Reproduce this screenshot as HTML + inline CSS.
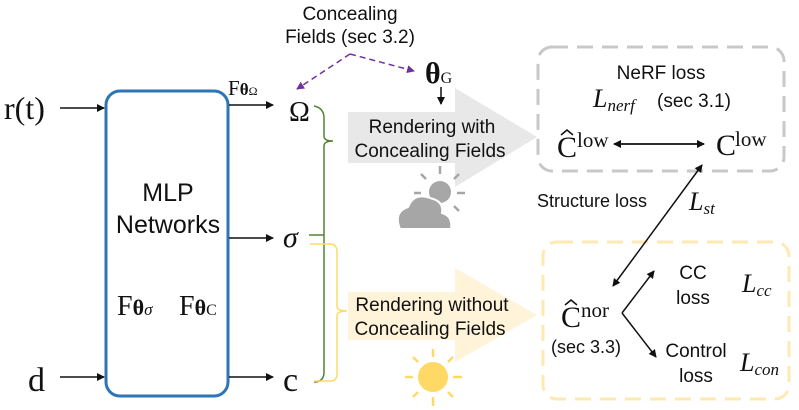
<!DOCTYPE html>
<html><head><meta charset="utf-8"><style>
html,body{margin:0;padding:0;background:#fff;width:799px;height:410px;overflow:hidden}
svg{display:block}
.s{font-family:"Liberation Sans",sans-serif;fill:#111}
.r{font-family:"Liberation Serif",serif;fill:#111}
</style></head><body>
<svg width="799" height="410" viewBox="0 0 799 410" xmlns="http://www.w3.org/2000/svg">
<defs>
<marker id="a" markerWidth="8" markerHeight="8" refX="7" refY="4" orient="auto" markerUnits="userSpaceOnUse"><path d="M0,0 L8,4 L0,8 z" fill="#111"/></marker>
<marker id="as" markerWidth="8" markerHeight="8" refX="1" refY="4" orient="auto" markerUnits="userSpaceOnUse"><path d="M8,0 L0,4 L8,8 z" fill="#111"/></marker>
<marker id="p" markerWidth="8" markerHeight="8" refX="7" refY="4" orient="auto" markerUnits="userSpaceOnUse"><path d="M0,0 L8,4 L0,8 z" fill="#7030a0"/></marker>
</defs>
<path d="M348,112 H455 V88 L537,137 L455,187 V163 H348 Z" fill="#e8e8e8"/>
<path d="M348,292 H455 V268 L537,315 L455,362 V340 H348 Z" fill="#fff3d9"/>
<text class="s" font-size="19" x="432" y="133" text-anchor="middle">Rendering with</text>
<text class="s" font-size="19" x="430" y="157" text-anchor="middle">Concealing Fields</text>
<text class="s" font-size="19" x="432" y="311" text-anchor="middle">Rendering without</text>
<text class="s" font-size="19" x="430" y="335" text-anchor="middle">Concealing Fields</text>
<rect x="106" y="91" width="122" height="305" rx="14" fill="none" stroke="#2e75b6" stroke-width="3"/>
<text class="s" font-size="25" x="168" y="201" text-anchor="middle">MLP</text>
<text class="s" font-size="25" x="168" y="233" text-anchor="middle">Networks</text>
<text class="r" font-size="28" x="117" y="315">F<tspan font-weight="bold" font-size="22">θ</tspan><tspan font-style="italic" font-size="17">σ</tspan></text>
<text class="r" font-size="28" x="179" y="315">F<tspan font-weight="bold" font-size="22">θ</tspan><tspan font-size="16">C</tspan></text>
<text class="r" font-size="32" x="4" y="119">r(t)</text>
<text class="r" font-size="34" x="28" y="391">d</text>
<line x1="60" y1="108" x2="104" y2="108" stroke="#111" stroke-width="1.5" marker-end="url(#a)"/>
<line x1="60" y1="377" x2="104" y2="377" stroke="#111" stroke-width="1.5" marker-end="url(#a)"/>
<text class="r" font-size="21" x="228" y="95">F<tspan font-weight="bold" font-size="17">θ</tspan><tspan font-size="12">Ω</tspan></text>
<line x1="229" y1="105" x2="273" y2="105" stroke="#111" stroke-width="1.5" marker-end="url(#a)"/>
<line x1="229" y1="238" x2="273" y2="238" stroke="#111" stroke-width="1.5" marker-end="url(#a)"/>
<line x1="229" y1="377" x2="273" y2="377" stroke="#111" stroke-width="1.5" marker-end="url(#a)"/>
<text class="r" font-size="28" x="289" y="121">Ω</text>
<text class="r" font-size="30" font-style="italic" x="283" y="247">σ</text>
<text class="r" font-size="34" x="283" y="391">c</text>
<path d="M314,106 Q324,108 324,118 V136 Q324,141 333,141 Q324,141 324,146 V372 Q324,382 314,382" fill="none" stroke="#548235" stroke-width="1.5"/>
<line x1="309" y1="235" x2="324" y2="235" stroke="#548235" stroke-width="1.5"/>
<path d="M310,244 H330 Q337,244 337,252 V306 Q337,311 347,311 Q337,311 337,316 V374 Q337,381 330,381 H314" fill="none" stroke="#ffd966" stroke-width="1.5"/>
<text class="s" font-size="19" x="350" y="20" text-anchor="middle">Concealing</text>
<text class="s" font-size="19" x="350" y="43" text-anchor="middle">Fields (sec 3.2)</text>
<path d="M350,54 L297,89" fill="none" stroke="#7030a0" stroke-width="1.5" stroke-dasharray="6 4" marker-end="url(#p)"/>
<path d="M350,54 L414,71" fill="none" stroke="#7030a0" stroke-width="1.5" stroke-dasharray="6 4" marker-end="url(#p)"/>
<text class="r" font-size="30" font-weight="bold" x="425" y="83">θ<tspan font-size="16" font-weight="normal">G</tspan></text>
<line x1="441" y1="87" x2="441" y2="104" stroke="#111" stroke-width="1.5" marker-end="url(#a)"/>
<g fill="#a6a6a6" stroke="#a6a6a6">
<circle cx="440" cy="192" r="11" stroke="none"/>
<g stroke-width="2.5"><line x1="440" y1="166" x2="440" y2="174"/><line x1="421" y1="174" x2="426" y2="179"/><line x1="459" y1="174" x2="454" y2="179"/><line x1="457" y1="193" x2="465" y2="193"/><line x1="454" y1="206" x2="459" y2="211"/><line x1="414" y1="193" x2="421" y2="193"/></g>
<path d="M400,229 Q393,212 408,207 Q414,192 430,198 Q444,201 442,213 Q453,216 451,229 Z" stroke="#fff" stroke-width="2"/>
</g>
<g fill="#ffd966" stroke="#ffd966" stroke-width="2.5">
<circle cx="433" cy="377" r="15" stroke="none"/>
<line x1="433" y1="349" x2="433" y2="357"/><line x1="433" y1="397" x2="433" y2="406"/>
<line x1="405" y1="377" x2="413" y2="377"/><line x1="453" y1="377" x2="462" y2="377"/>
<line x1="413" y1="357" x2="418" y2="362"/><line x1="453" y1="357" x2="448" y2="362"/>
<line x1="413" y1="397" x2="418" y2="392"/><line x1="453" y1="397" x2="448" y2="392"/>
</g>
<rect x="538" y="47" width="246" height="124" rx="14" fill="none" stroke="#c8c8c8" stroke-width="3" stroke-dasharray="16 9"/>
<rect x="543" y="242" width="246" height="157" rx="14" fill="none" stroke="#ffe9b3" stroke-width="3" stroke-dasharray="16 9"/>
<text class="s" font-size="19" x="661" y="79" text-anchor="middle">NeRF loss</text>
<text class="r" font-size="26" font-style="italic" x="593" y="107">L<tspan font-size="17" dy="4">nerf</tspan></text>
<text class="s" font-size="19" x="657" y="107">(sec 3.1)</text>
<text class="r" font-size="30" x="557" y="157">C</text><path d="M561,135 L567,130 L573,135" fill="none" stroke="#111" stroke-width="1.5"/><text class="r" font-size="21" x="577" y="147">low</text>
<text class="r" font-size="30" x="716" y="155">C</text><text class="r" font-size="21" x="735" y="146">low</text>
<line x1="614" y1="144" x2="704" y2="144" stroke="#111" stroke-width="1.8" marker-end="url(#a)" marker-start="url(#as)"/>
<text class="s" font-size="18" x="537" y="207">Structure loss</text>
<text class="r" font-size="26" font-style="italic" x="689" y="210">L<tspan font-size="17" dy="4">st</tspan></text>
<line x1="702" y1="165" x2="613" y2="286" stroke="#111" stroke-width="1.5" marker-end="url(#a)" marker-start="url(#as)"/>
<text class="r" font-size="30" x="561" y="327">C</text><path d="M565,305 L571,300 L577,305" fill="none" stroke="#111" stroke-width="1.5"/><text class="r" font-size="21" x="581" y="317">nor</text>
<text class="s" font-size="18" x="551" y="353">(sec 3.3)</text>
<line x1="622" y1="313" x2="656" y2="357" stroke="#111" stroke-width="1.5" marker-end="url(#a)"/>
<line x1="622" y1="313" x2="654" y2="271" stroke="#111" stroke-width="1.5" marker-end="url(#a)"/>
<text class="s" font-size="19" x="693" y="279" text-anchor="middle">CC</text>
<text class="s" font-size="19" x="693" y="304" text-anchor="middle">loss</text>
<text class="r" font-size="26" font-style="italic" x="742" y="292">L<tspan font-size="17" dy="4">cc</tspan></text>
<text class="s" font-size="19" x="696" y="357" text-anchor="middle">Control</text>
<text class="s" font-size="19" x="696" y="382" text-anchor="middle">loss</text>
<text class="r" font-size="26" font-style="italic" x="740" y="371">L<tspan font-size="17" dy="4">con</tspan></text>
</svg>
</body></html>
